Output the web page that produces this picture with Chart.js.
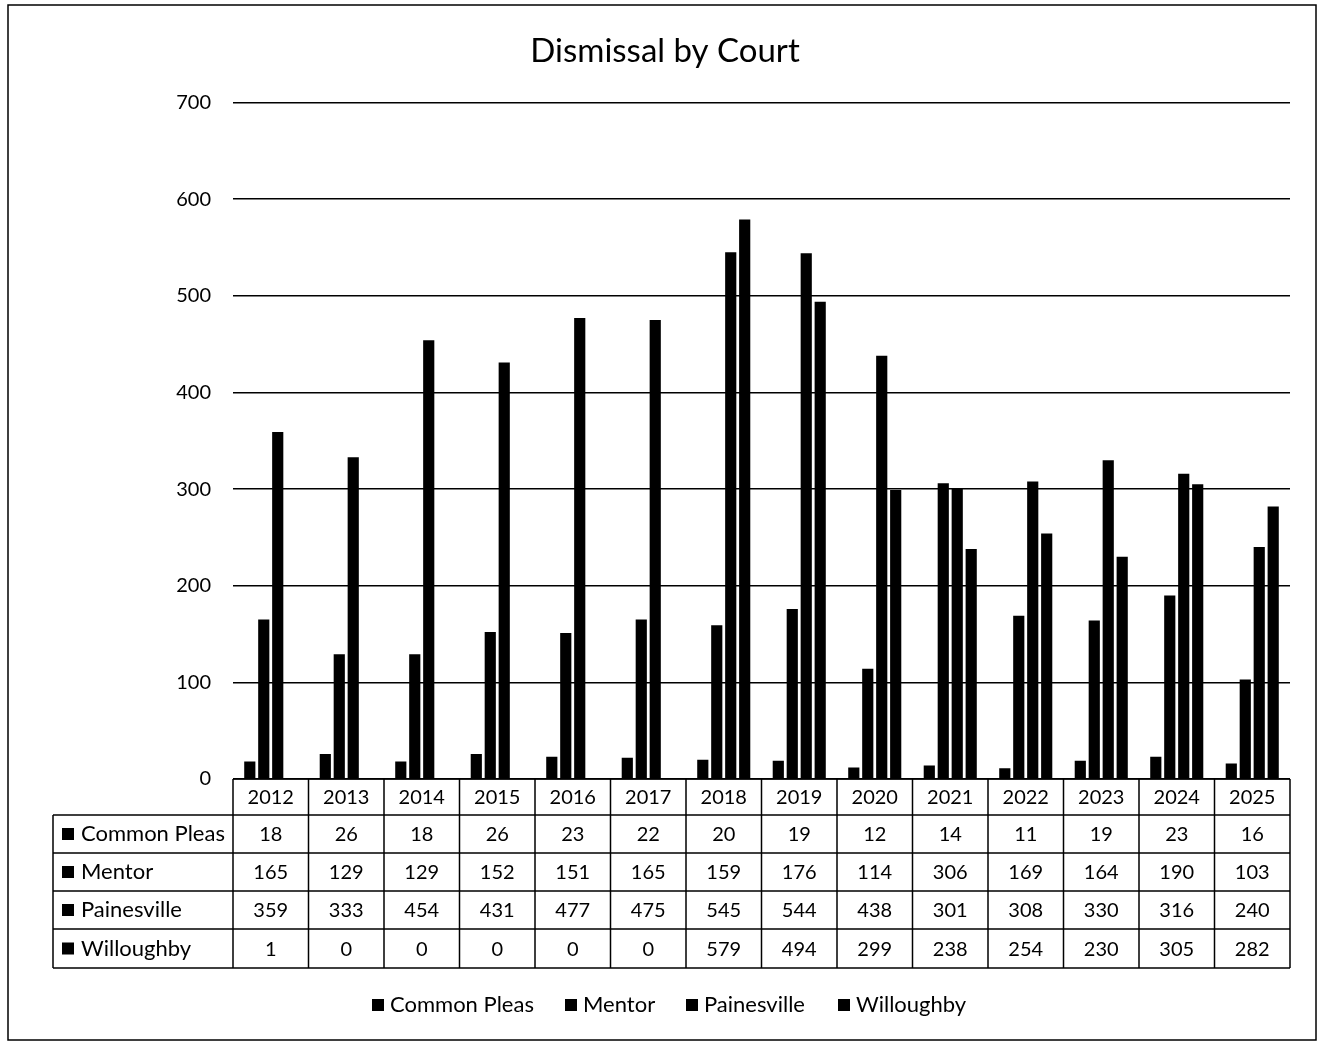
<!DOCTYPE html>
<html>
<head>
<meta charset="utf-8">
<script src="https://cdn.jsdelivr.net/npm/chart.js@4.4.1/dist/chart.umd.min.js"></script>
<style>
    html, body { margin: 0; padding: 0; background: #fff; }
    #wrap { width: 1320px; height: 1042px; }
</style>
</head>
<body>
<div id="wrap"><canvas id="myChart" width="1320" height="1042"></canvas></div>
<script>
// dane
const lata = ["2012", "2013", "2014", "2015", "2016", "2017", "2018", "2019", "2020", "2021", "2022", "2023", "2024", "2025"];
const commonPleas = [18, 26, 18, 26, 23, 22, 20, 19, 12, 14, 11, 19, 23, 16];
const mentor = [165, 129, 129, 152, 151, 165, 159, 176, 114, 306, 169, 164, 190, 103];
const painesville = [359, 333, 454, 431, 477, 475, 545, 544, 438, 301, 308, 330, 316, 240];
const willoughby = [1, 0, 0, 0, 0, 0, 579, 494, 299, 238, 254, 230, 305, 282];
const yTicks = [0, 100, 200, 300, 400, 500, 600, 700];

const FONT = "Lato, 'Open Sans', sans-serif";

function seria(nazwa, dane) {
    return {
        label: nazwa,
        data: dane,
        backgroundColor: '#000',
        borderWidth: 0,
        categoryPercentage: 0.74,
        barPercentage: 0.8
    };
}

// tabela z danymi pod wykresem + legenda + ramka
const tabelaPlugin = {
    id: 'tabela',
    afterDraw(chart) {
        const ctx = chart.ctx;
        const x = chart.scales.x;
        const area = chart.chartArea;
        const n = lata.length;
        const szer = (area.right - area.left) / n;
        const top = area.bottom;
        const rzedy = [top, top + 36, top + 74, top + 112, top + 150, top + 189];
        const lewo = 53;

        ctx.save();
        ctx.strokeStyle = '#000';
        ctx.lineWidth = 1.5;

        // linie poziome
        ctx.beginPath();
        ctx.moveTo(area.left, rzedy[0]);
        ctx.lineTo(area.right, rzedy[0]);
        for (let r = 1; r < rzedy.length; r++) {
            ctx.moveTo(lewo, rzedy[r]);
            ctx.lineTo(area.right, rzedy[r]);
        }
        // linie pionowe
        ctx.moveTo(lewo, rzedy[1]);
        ctx.lineTo(lewo, rzedy[5]);
        for (let i = 0; i <= n; i++) {
            const xx = area.left + i * szer;
            ctx.moveTo(xx, rzedy[0]);
            ctx.lineTo(xx, rzedy[5]);
        }
        ctx.stroke();

        ctx.fillStyle = '#000';
        ctx.font = '20px ' + FONT;
        ctx.textBaseline = 'middle';
        ctx.textAlign = 'center';
        for (let i = 0; i < n; i++) {
            const cx = x.getPixelForValue(i);
            ctx.fillText(lata[i], cx, (rzedy[0] + rzedy[1]) / 2 + 1);
        }
        const ds = chart.data.datasets;
        for (let d = 0; d < ds.length; d++) {
            const cy = (rzedy[d + 1] + rzedy[d + 2]) / 2 + 1;
            ctx.font = '20px ' + FONT;
            for (let i = 0; i < n; i++) {
                ctx.textAlign = 'center';
                ctx.fillText(String(ds[d].data[i]), x.getPixelForValue(i), cy);
            }
            ctx.fillRect(62, cy - 7, 12, 12);
            ctx.font = '22px ' + FONT;
            ctx.textAlign = 'left';
            ctx.fillText(ds[d].label, 81, cy - 1);
        }

        // legenda
        const ly = 1005;
        const pozycje = [372, 565, 686, 838];
        ctx.font = '22px ' + FONT;
        for (let d = 0; d < ds.length; d++) {
            ctx.fillRect(pozycje[d], ly - 6, 12, 12);
            ctx.textAlign = 'left';
            ctx.fillText(ds[d].label, pozycje[d] + 18, ly);
        }

        // ramka
        ctx.lineWidth = 1.5;
        ctx.strokeRect(8, 5, 1308, 1035);
        ctx.restore();
    }
};

const CHART = document.getElementById("myChart");
let wykres = new Chart(CHART, {
    type: 'bar',
    data: {
        labels: lata,
        datasets: [
            seria('Common Pleas', commonPleas),
            seria('Mentor', mentor),
            seria('Painesville', painesville),
            seria('Willoughby', willoughby)
        ]
    },
    options: {
        responsive: false,
        animation: false,
        layout: {
            padding: { left: 40, right: 30, top: 0, bottom: 263 }
        },
        plugins: {
            legend: { display: false },
            tooltip: { enabled: false },
            title: {
                display: true,
                text: 'Dismissal by Court',
                color: '#000',
                font: { size: 33, family: FONT, weight: 'normal' },
                padding: { top: 32, bottom: 31 }
            }
        },
        scales: {
            x: {
                display: false
            },
            y: {
                min: 0,
                max: 700,
                afterFit(scale) {
                    scale.width = 193;
                },
                afterBuildTicks(scale) {
                    scale.ticks = yTicks.map(v => ({ value: v }));
                },
                border: { display: false },
                grid: {
                    color: '#000',
                    lineWidth: 1.5,
                    drawTicks: false
                },
                ticks: {
                    color: '#000',
                    padding: 22,
                    font: { size: 20, family: FONT }
                }
            }
        }
    },
    plugins: [tabelaPlugin]
});
</script>
</body>
</html>
